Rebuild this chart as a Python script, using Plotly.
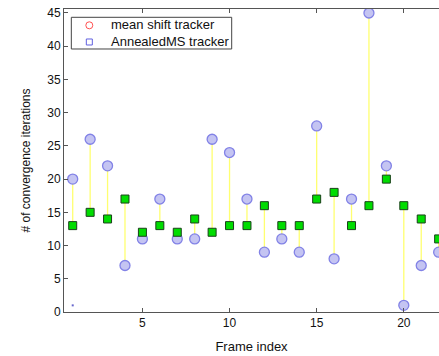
import plotly.graph_objects as go

frames = list(range(1, 23))
mean_shift = [20, 26, 22, 7, 11, 17, 11, 11, 26, 24, 17, 9, 11, 9, 28, 8, 17, 45, 22, 1, 7, 9]
annealed = [13, 15, 14, 17, 12, 13, 12, 14, 12, 13, 13, 16, 13, 13, 17, 18, 13, 16, 20, 16, 14, 11]
stray_x = [1]
stray_y = [1]
legend_labels = ["mean shift tracker", "AnnealedMS tracker"]

lx, ly = [], []
for f, a, b in zip(frames, mean_shift, annealed):
    lx += [f, f, None]
    ly += [a, b, None]

fig = go.Figure()
fig.add_trace(go.Scatter(x=lx, y=ly, mode="lines", line=dict(color="#ffff70", width=1.3),
                         showlegend=False, hoverinfo="skip"))
fig.add_trace(go.Scatter(x=frames, y=mean_shift, mode="markers", showlegend=False,
                         name=legend_labels[0],
                         marker=dict(symbol="circle", size=10, color="#c4c4f2",
                                     line=dict(color="#8282e6", width=1.3))))
fig.add_trace(go.Scatter(x=frames, y=annealed, mode="markers", showlegend=False,
                         name=legend_labels[1],
                         marker=dict(symbol="square", size=8, color="#00dd00",
                                     line=dict(color="#1a401a", width=1))))
fig.add_trace(go.Scatter(x=stray_x, y=stray_y, mode="markers", showlegend=False,
                         marker=dict(symbol="square", size=2, color="#6666cc", line=dict(width=0))))

# manual legend box (paper coordinates)
shapes = [
    dict(type="rect", xref="paper", yref="paper", x0=0.0195, x1=0.4472, y0=0.868, y1=0.9726,
         line=dict(color="#444444", width=1), fillcolor="white", layer="above"),
    dict(type="circle", xref="paper", yref="paper", x0=0.0675 - 0.0093, x1=0.0675 + 0.0093,
         y0=0.9462 - 0.0116, y1=0.9462 + 0.0116, line=dict(color="#ff5050", width=1), layer="above"),
    dict(type="rect", xref="paper", yref="paper", x0=0.0675 - 0.008, x1=0.0675 + 0.008,
         y0=0.8911 - 0.0099, y1=0.8911 + 0.0099, line=dict(color="#6060e0", width=1), layer="above"),
]
annotations = [
    dict(xref="paper", yref="paper", x=0.1192, y=0.9475, text=legend_labels[0], showarrow=False,
         xanchor="left", yanchor="middle", font=dict(size=13, color="#111111")),
    dict(xref="paper", yref="paper", x=0.1192, y=0.8921, text=legend_labels[1], showarrow=False,
         xanchor="left", yanchor="middle", font=dict(size=13, color="#111111")),
]

axis_common = dict(showgrid=False, zeroline=False, showline=True, linecolor="#555555",
                   linewidth=1, ticks="inside", ticklen=4, tickcolor="#555555",
                   tickfont=dict(family="Liberation Sans, Arial", size=12, color="#111111"))

fig.update_layout(
    width=439, height=356,
    margin=dict(l=64, r=0, t=9, b=44),
    plot_bgcolor="white", paper_bgcolor="white",
    font=dict(family="Liberation Sans, Arial", size=12, color="#111111"),
    xaxis=dict(range=[0.5, 22.02], tickvals=[5, 10, 15, 20], mirror="ticks",
               title=dict(text="Frame index", standoff=12, font=dict(size=13)), **axis_common),
    yaxis=dict(range=[0, 45.6], tickvals=[0, 5, 10, 15, 20, 25, 30, 35, 40, 45],
               title=dict(text="# of convergence iterations", standoff=14, font=dict(size=12)),
               **axis_common),
    shapes=shapes,
    annotations=annotations,
    showlegend=False,
)

fig.write_html("out.html")
